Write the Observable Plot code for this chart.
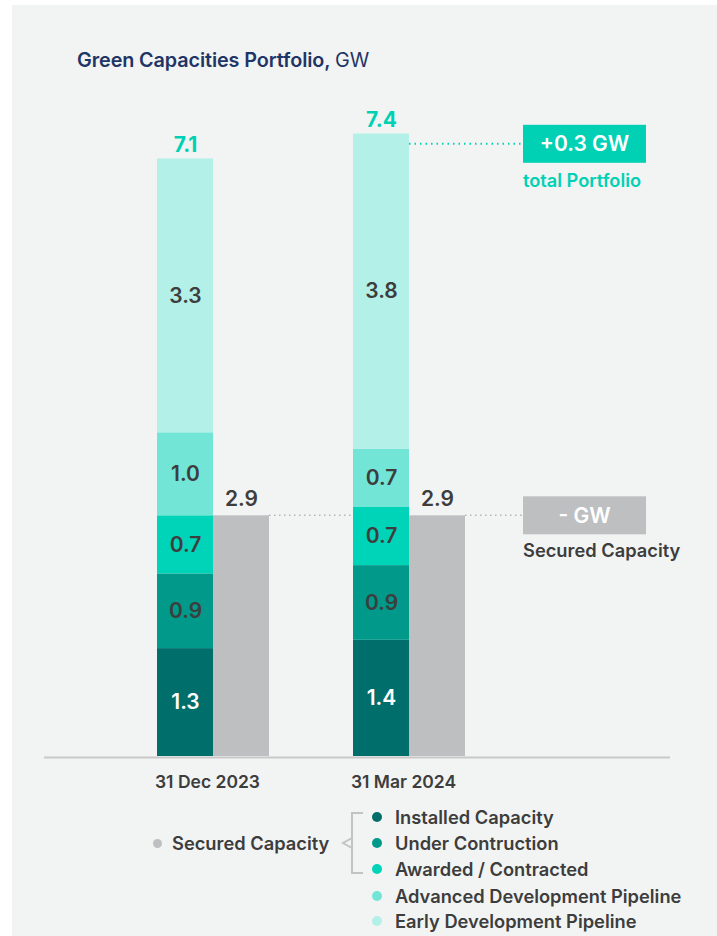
<!DOCTYPE html>
<html>
<head>
<meta charset="utf-8">
<script src="https://cdn.jsdelivr.net/npm/d3@7"></script>
<script src="https://cdn.jsdelivr.net/npm/@observablehq/plot@0.6"></script>
<style>
  html, body { margin: 0; padding: 0; background: #ffffff; }
  body { width: 717px; height: 936px; position: relative; overflow: hidden; font-family: Inter, "Open Sans", "DejaVu Sans", sans-serif; }
  #card { position: absolute; left: 12px; top: 5px; width: 705px; height: 931px; background: #f2f4f3; }
  #title { position: absolute; left: 77px; top: 48px; font-size: 19.8px; line-height: 24px; color: #1f3566; font-weight: 600; white-space: nowrap; letter-spacing: -0.1px; }
  #title span { font-weight: 400; }
  #chart { position: absolute; left: 0; top: 0; }
  #legend { position: absolute; left: 0; top: 0; width: 717px; height: 936px; pointer-events: none; }
  .lg-item { position: absolute; height: 22px; line-height: 22px; font-size: 18.3px; font-weight: 600; color: #3d3d3d; white-space: nowrap; }
  .lg-dot { position: absolute; border-radius: 50%; }
</style>
</head>
<body>
<div id="card"></div>
<div id="title">Green Capacities Portfolio, <span>GW</span></div>
<div id="chart"></div>
<div id="legend"></div>
<script>
// ---- data ----
const dates = ["31 Dec 2023", "31 Mar 2024"];
const categories = ["Installed Capacity", "Under Contruction", "Awarded / Contracted", "Advanced Development Pipeline", "Early Development Pipeline"];
const colors = ["#006e6b", "#00998a", "#00d4b8", "#72e5d6", "#b3f1e8"];
const installed = [1.3, 1.4];
const underConstruction = [0.9, 0.9];
const awarded = [0.7, 0.7];
const advanced = [1.0, 0.7];
const early = [3.3, 3.8];
const totals = [7.1, 7.4];
const secured = [2.9, 2.9];
const securedLabel = "Secured Capacity";
const securedColor = "#bebfc1";
const portfolioChange = "+0.3 GW";
const portfolioChangeLabel = "total Portfolio";
const securedChange = "- GW";
const securedChangeLabel = "Secured Capacity";

// ---- build tables ----
const series = [installed, underConstruction, awarded, advanced, early];
const rows = [];
dates.forEach((date, i) => {
  categories.forEach((cat, j) => {
    rows.push({date, cat, value: series[j][i], color: colors[j], textColor: j === 0 ? "#ffffff" : "#3d3d3d"});
  });
});
const securedRows = dates.map((date, i) => ({date, value: secured[i]}));
const totalRows = dates.map((date, i) => ({date, total: totals[i], top: d3.sum(series, s => s[i])}));

const teal = "#00d1b4";
const dark = "#3d3d3d";
const W = 717, H = 800;

const chart = Plot.plot({
  width: W,
  height: H,
  marginTop: 92,
  marginBottom: 44,
  marginLeft: 44,
  marginRight: 47,
  style: {background: "transparent", fontFamily: "Inter, 'Open Sans', sans-serif", overflow: "visible"},
  x: {domain: dates, range: [156, 465], paddingInner: 0.431, paddingOuter: 0, axis: null},
  y: {domain: [0, 8], axis: null},
  color: {type: "identity"},
  marks: [
    Plot.barY(rows, {x: "date", y: "value", fill: "color", insetRight: 56}),
    Plot.barY(securedRows, {x: "date", y: "value", fill: securedColor, insetLeft: 56}),
    Plot.text(rows, Plot.stackY({x: "date", y: "value", text: d => d.value.toFixed(1), fill: "textColor", dx: -28, fontSize: 21, fontWeight: 600})),
    Plot.text(securedRows, {x: "date", y: "value", text: d => d.value.toFixed(1), fill: dark, dx: 28, dy: -17, fontSize: 21, fontWeight: 600}),
    Plot.text(totalRows, {x: "date", y: "top", text: d => d.total.toFixed(1), fill: teal, dx: -28, dy: -14, fontSize: 21, fontWeight: 700}),
    Plot.text(dates, {x: d => d, frameAnchor: "bottom", dy: 31, dx: -6, text: d => d, fill: dark, fontSize: 17.5, fontWeight: 600}),
    Plot.ruleY([0], {stroke: "#c8c8c8", strokeWidth: 2, dy: 1})
  ]
});
document.getElementById("chart").appendChild(chart);

// ---- annotations using the chart's own scales ----
const sx = chart.scale("x"), sy = chart.scale("y");
const bw = sx.bandwidth;
const svg = d3.select(chart);
const g = svg.append("g").attr("font-family", "Inter, 'Open Sans', sans-serif");
const boxX = 523, boxW = 123, boxH = 38;

// total portfolio
const yTop = sy.apply(totals[1]) + 2;
g.append("line").attr("x1", sx.apply(dates[1]) + bw / 2).attr("x2", boxX).attr("y1", yTop).attr("y2", yTop)
  .attr("stroke", teal).attr("stroke-width", 2).attr("stroke-dasharray", "1.5,4");
g.append("rect").attr("x", boxX).attr("y", yTop - boxH / 2).attr("width", boxW).attr("height", boxH).attr("fill", teal);
g.append("text").attr("x", boxX + boxW / 2).attr("y", yTop).attr("dy", "0.35em").attr("text-anchor", "middle")
  .attr("fill", "#fff").attr("font-size", 21).attr("font-weight", 600).text(portfolioChange);
g.append("text").attr("x", boxX).attr("y", yTop + 37).attr("dy", "0.35em").attr("text-anchor", "start")
  .attr("fill", teal).attr("font-size", 18.2).attr("font-weight", 600).text(portfolioChangeLabel);

// secured capacity
const ySec0 = sy.apply(secured[0]), ySec1 = sy.apply(secured[1]);
g.append("line").attr("x1", sx.apply(dates[0]) + bw).attr("x2", sx.apply(dates[1])).attr("y1", ySec0).attr("y2", ySec0)
  .attr("stroke", "#b5b5b5").attr("stroke-width", 1.5).attr("stroke-dasharray", "1.5,3.5");
g.append("line").attr("x1", sx.apply(dates[1]) + bw).attr("x2", boxX).attr("y1", ySec1).attr("y2", ySec1)
  .attr("stroke", "#b5b5b5").attr("stroke-width", 1.5).attr("stroke-dasharray", "1.5,3.5");
g.append("rect").attr("x", boxX).attr("y", ySec1 - boxH / 2).attr("width", boxW).attr("height", boxH).attr("fill", securedColor);
g.append("text").attr("x", boxX + boxW / 2).attr("y", ySec1).attr("dy", "0.35em").attr("text-anchor", "middle")
  .attr("fill", "#fff").attr("font-size", 21).attr("font-weight", 600).text(securedChange);
g.append("text").attr("x", boxX).attr("y", ySec1 + 35).attr("dy", "0.35em").attr("text-anchor", "start")
  .attr("fill", dark).attr("font-size", 18.3).attr("font-weight", 600).text(securedChangeLabel);

// ---- legend ----
const legend = document.getElementById("legend");
const legendYs = [817, 843, 869, 896, 921];
function addItem(cx, cy, r, color, label, textX) {
  const dot = document.createElement("div");
  dot.className = "lg-dot";
  dot.style.left = (cx - r) + "px"; dot.style.top = (cy - r) + "px";
  dot.style.width = (2 * r) + "px"; dot.style.height = (2 * r) + "px";
  dot.style.background = color;
  legend.appendChild(dot);
  const t = document.createElement("div");
  t.className = "lg-item";
  t.style.left = textX + "px"; t.style.top = (cy - 11) + "px";
  t.textContent = label;
  legend.appendChild(t);
}
categories.forEach((c, j) => addItem(377, legendYs[j], 5, colors[j], c, 395));
addItem(157, 843, 4.5, securedColor, securedLabel, 172);
const br = d3.select(legend).append("svg").attr("width", 717).attr("height", 936)
  .style("position", "absolute").style("left", 0).style("top", 0);
br.append("path").attr("d", "M363,813 H352 V873 H363 M352,838 L343,843 L352,848")
  .attr("fill", "none").attr("stroke", "#c3c3c3").attr("stroke-width", 2);
</script>
</body>
</html>
